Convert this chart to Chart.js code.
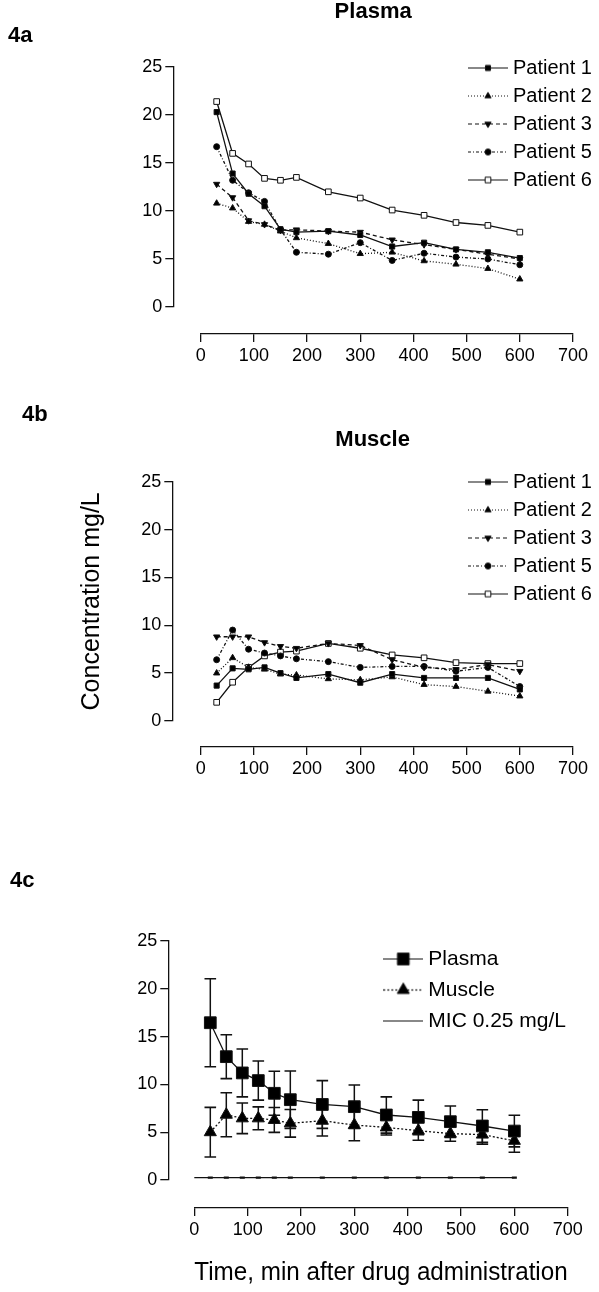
<!DOCTYPE html>
<html>
<head>
<meta charset="utf-8">
<script src="https://cdn.jsdelivr.net/npm/chart.js@4.4.0/dist/chart.umd.min.js"></script>
<style>
  body { margin: 0; background: #fff; }
  #wrap { position: relative; width: 599px; height: 1292px; overflow: hidden; background: #fff; }
  canvas { position: absolute; left: 0; }
</style>
</head>
<body>
<div id="wrap">
  <canvas id="plasmaChart" width="599" height="390" style="top:0px"></canvas>
  <canvas id="muscleChart" width="599" height="400" style="top:395px"></canvas>
  <canvas id="meanChart" width="599" height="432" style="top:860px"></canvas>
</div>
<script>
// sampling times, min after drug administration
const times = [30, 60, 90, 120, 150, 180, 240, 300, 360, 420, 480, 540, 600];
const patientNames = ['Patient 1', 'Patient 2', 'Patient 3', 'Patient 5', 'Patient 6'];

// 4a - plasma concentration, mg/L
const plasmaP1 = [20.3, 13.9, 11.8, 10.5, 8.1, 7.8, 7.9, 7.5, 6.3, 6.7, 6.0, 5.7, 5.1];
const plasmaP2 = [10.8, 10.3, 8.9, 8.6, 7.9, 7.2, 6.6, 5.55, 5.7, 4.8, 4.45, 4.0, 2.9];
const plasmaP3 = [12.8, 11.4, 9.0, 8.6, 8.0, 8.05, 7.9, 7.8, 7.0, 6.5, 6.0, 5.5, 5.0];
const plasmaP5 = [16.7, 13.2, 11.9, 11.0, 8.05, 5.7, 5.5, 6.7, 4.85, 5.6, 5.2, 5.0, 4.4];
const plasmaP6 = [21.4, 16.0, 14.9, 13.4, 13.2, 13.5, 12.0, 11.35, 10.1, 9.55, 8.8, 8.5, 7.8];

// 4b - muscle concentration, mg/L
const muscleP1 = [3.7, 5.5, 5.4, 5.6, 5.0, 4.5, 4.9, 4.0, 4.9, 4.5, 4.5, 4.5, 3.3];
const muscleP2 = [5.0, 6.6, 5.6, 5.4, 4.9, 4.8, 4.4, 4.3, 4.6, 3.8, 3.6, 3.1, 2.6];
const muscleP3 = [8.8, 8.8, 8.8, 8.2, 7.8, 7.6, 8.1, 7.9, 6.4, 5.6, 5.4, 5.9, 5.2];
const muscleP5 = [6.4, 9.5, 7.5, 7.1, 6.8, 6.5, 6.2, 5.6, 5.7, 5.7, 5.2, 5.6, 3.6];
const muscleP6 = [1.95, 4.05, 5.6, 6.8, 7.2, 7.3, 8.1, 7.6, 6.9, 6.6, 6.1, 6.0, 6.0];

// 4c - mean +/- SD
const plasmaMean = [16.45, 12.9, 11.2, 10.4, 9.07, 8.4, 7.9, 7.67, 6.8, 6.55, 6.1, 5.65, 5.12];
const plasmaSD   = [4.6, 2.3, 2.5, 2.05, 2.3, 3.0, 2.5, 2.27, 1.9, 1.8, 1.64, 1.7, 1.65];
const muscleMean = [5.0, 6.83, 6.45, 6.45, 6.28, 5.93, 6.2, 5.75, 5.5, 5.16, 4.85, 4.75, 4.1];
const muscleSD   = [2.6, 2.3, 1.6, 1.2, 1.3, 1.45, 1.6, 1.65, 0.8, 1.0, 0.8, 1.0, 1.2];
const micValue = 0.25;
const micStart = -5;

const yTicks = { min: 0, max: 25, step: 5 };
const xTicks = { min: 0, max: 700, step: 100 };

const ink = '#111';
Chart.defaults.font.family = '"Liberation Sans", Arial, Helvetica, sans-serif';
Chart.defaults.color = '#000';
Chart.defaults.animation = false;
Chart.defaults.events = [];

const patientStyle = [
  { shape: 'rect', rot: 0, dash: [], fill: '#000', r: 3.6 },
  { shape: 'triangle', rot: 0, dash: [1, 2], fill: '#000', r: 3.6 },
  { shape: 'triangle', rot: 180, dash: [4, 3], fill: '#000', r: 3.6 },
  { shape: 'circle', rot: 0, dash: [3, 2, 1, 2], fill: '#000', r: 3 },
  { shape: 'rect', rot: 0, dash: [], fill: '#fff', r: 4 }
];
const meanStyle = {
  Plasma: { shape: 'rect', rot: 0, dash: [], fill: '#000', r: 8.3 },
  Muscle: { shape: 'triangle', rot: 0, dash: [2, 2], fill: '#000', r: 7 },
  'MIC 0.25 mg/L': { shape: null, dash: [] }
};

function xy(vals) {
  return times.map((t, i) => ({ x: t, y: vals[i] }));
}

// small canvas used as legend symbol: line + marker, like the Prism legend
function legendIcon(st, w, h) {
  const c = document.createElement('canvas');
  c.width = w; c.height = h;
  const g = c.getContext('2d');
  const cx = w / 2, cy = h / 2;
  g.strokeStyle = ink; g.lineWidth = 1.2;
  g.setLineDash(st.dash);
  g.beginPath(); g.moveTo(0, cy); g.lineTo(w, cy); g.stroke();
  g.setLineDash([]);
  if (!st.shape) return c;
  g.fillStyle = st.fill; g.lineWidth = 1;
  g.beginPath();
  if (st.shape === 'rect') {
    const s = st.r * Math.SQRT1_2;
    g.rect(cx - s, cy - s, 2 * s, 2 * s);
  } else if (st.shape === 'circle') {
    g.arc(cx, cy, st.r, 0, Math.PI * 2);
  } else {
    const dir = st.rot ? -1 : 1;
    for (let k = 0; k < 3; k++) {
      const a = -Math.PI / 2 + k * 2 * Math.PI / 3;
      const px = cx + Math.cos(a) * st.r, py = cy + dir * Math.sin(a) * st.r;
      if (k) g.lineTo(px, py); else g.moveTo(px, py);
    }
    g.closePath();
  }
  g.fill(); g.stroke();
  return c;
}

function legendOpts(icons, size, pad, boxW) {
  return {
    display: true,
    position: 'chartArea',
    align: 'start',
    labels: {
      usePointStyle: true,
      pointStyleWidth: boxW,
      padding: pad,
      color: '#000',
      font: { size: size },
      filter: (item) => !!icons[item.text],
      generateLabels: (chart) => Chart.defaults.plugins.legend.labels.generateLabels(chart).map((item) => {
        if (icons[item.text]) { item.pointStyle = icons[item.text]; item.rotation = 0; }
        return item;
      })
    }
  };
}

// legend of this figure sits inside the plot, top right
const legendSpot = {
  id: 'legendSpot',
  afterLayout(chart, args, opts) {
    const lg = chart.legend;
    if (!lg) return;
    lg.left = chart.chartArea.right - opts.fromRight;
    lg.top = chart.chartArea.top - opts.above;
    lg.right = lg.left + lg.width;
    lg.bottom = lg.top + lg.height;
  }
};

// Prism-style detached axes: each axis shares a stack with an empty spacer scale.
// left boxes are laid out in reverse order, so the spacer is declared first.
function offsetAxes(o) {
  const fixW = (s) => { s.width = o.yWidth; };
  const fixH = (s) => { s.height = o.xHeight; };
  const blank = { display: true, ticks: { display: false }, grid: { display: false }, border: { display: false } };
  return {
    yGap: Object.assign({ type: 'linear', position: 'left', stack: 'left', stackWeight: o.yGap, afterFit: fixW }, blank),
    y: {
      type: 'linear', position: 'left', stack: 'left', stackWeight: o.yMain,
      min: yTicks.min, max: yTicks.max,
      ticks: { stepSize: yTicks.step, padding: 3, color: '#000', font: { size: 18 } },
      grid: { drawOnChartArea: false, tickLength: 8, color: ink, lineWidth: 1.3 },
      border: { color: ink, width: 1.3 },
      title: o.yTitle || { display: false },
      afterFit: fixW
    },
    xGap: Object.assign({ type: 'linear', position: 'bottom', stack: 'bottom', stackWeight: o.xGap, afterFit: fixH }, blank),
    x: {
      type: 'linear', position: 'bottom', stack: 'bottom', stackWeight: o.xMain,
      min: xTicks.min, max: xTicks.max,
      ticks: { stepSize: xTicks.step, padding: 3, color: '#000', font: { size: 18 }, maxRotation: 0, autoSkip: false },
      grid: { drawOnChartArea: false, tickLength: 8, color: ink, lineWidth: 1.3 },
      border: { color: ink, width: 1.3 },
      title: o.xTitle || { display: false },
      afterFit: fixH
    }
  };
}

function patientSets(series) {
  return series.map((vals, i) => {
    const st = patientStyle[i];
    return {
      label: patientNames[i],
      data: xy(vals),
      xAxisID: 'x', yAxisID: 'y',
      borderColor: ink, borderWidth: 1.3, borderDash: st.dash,
      pointStyle: st.shape, pointRotation: st.rot, pointRadius: st.r,
      pointBackgroundColor: st.fill, pointBorderColor: ink, pointBorderWidth: 1,
      tension: 0, fill: false
    };
  });
}

const patientIcons = {};
patientNames.forEach((n, i) => { patientIcons[n] = legendIcon(patientStyle[i], 40, 13); });
const meanIcons = {};
Object.keys(meanStyle).forEach((n) => { meanIcons[n] = legendIcon(meanStyle[n], 40, 19); });

const panelLabel = (text, top, bottom) => ({
  display: true, text: text, align: 'start', fullSize: true, color: '#000',
  font: { size: 22, weight: 'bold', lineHeight: 1 }, padding: { top: top, bottom: bottom }
});
const panelTitle = (text, top, bottom) => ({
  display: true, text: text, align: 'center', fullSize: false, color: '#000',
  font: { size: 22, weight: 'bold', lineHeight: 1 }, padding: { top: top, bottom: bottom }
});

// 4a
new Chart(document.getElementById('plasmaChart'), {
  type: 'line',
  data: { datasets: patientSets([plasmaP1, plasmaP2, plasmaP3, plasmaP5, plasmaP6]) },
  options: {
    responsive: false,
    layout: { padding: { left: 8, top: 0, right: 26, bottom: 16 } },
    scales: offsetAxes({ yWidth: 165.3, xHeight: 40, yMain: 240, yGap: 27, xGap: 27.4, xMain: 372.3 }),
    plugins: {
      title: panelTitle('Plasma', 1, 0),
      subtitle: panelLabel('4a', 2, 20),
      legend: legendOpts(patientIcons, 20, 8, 30),
      legendSpot: { fromRight: 108, above: 17 },
      tooltip: { enabled: false }
    }
  },
  plugins: [legendSpot]
});

// 4b
new Chart(document.getElementById('muscleChart'), {
  type: 'line',
  data: { datasets: patientSets([muscleP1, muscleP2, muscleP3, muscleP5, muscleP6]) },
  options: {
    responsive: false,
    layout: { padding: { left: 22, top: 0, right: 26, bottom: 8 } },
    scales: offsetAxes({
      yWidth: 150.3, xHeight: 40, yMain: 239.3, yGap: 26, xGap: 28.4, xMain: 372.3,
      yTitle: { display: true, text: 'Concentration mg/L', color: '#000', font: { size: 25 }, padding: { top: 55, bottom: 0 } }
    }),
    plugins: {
      title: panelLabel('4b', 9, 0),
      subtitle: panelTitle('Muscle', 3, 30.7),
      legend: legendOpts(patientIcons, 20, 8, 30),
      legendSpot: { fromRight: 108, above: 17.7 },
      tooltip: { enabled: false }
    }
  },
  plugins: [legendSpot]
});

// 4c - error bars are drawn as broken line segments with 'line' caps
function errorBars(mean, sd) {
  const pts = [];
  times.forEach((t, i) => {
    pts.push({ x: t, y: mean[i] - sd[i] }, { x: t, y: mean[i] + sd[i] }, { x: t, y: null });
  });
  return pts;
}
const micData = [{ x: micStart, y: micValue }].concat(times.map((t) => ({ x: t, y: micValue })));

new Chart(document.getElementById('meanChart'), {
  type: 'line',
  data: {
    datasets: [
      {
        label: 'plasmaSD', data: errorBars(plasmaMean, plasmaSD), order: 3,
        xAxisID: 'x', yAxisID: 'y', spanGaps: false,
        borderColor: ink, borderWidth: 1.5, pointStyle: 'line', pointRadius: 5.8,
        pointBorderColor: ink, pointBorderWidth: 1.6
      },
      {
        label: 'muscleSD', data: errorBars(muscleMean, muscleSD), order: 3,
        xAxisID: 'x', yAxisID: 'y', spanGaps: false,
        borderColor: ink, borderWidth: 1.5, pointStyle: 'line', pointRadius: 5.8,
        pointBorderColor: ink, pointBorderWidth: 1.6
      },
      {
        label: 'Plasma', data: xy(plasmaMean), order: 1,
        xAxisID: 'x', yAxisID: 'y',
        borderColor: ink, borderWidth: 1.3,
        pointStyle: 'rect', pointRadius: meanStyle.Plasma.r,
        pointBackgroundColor: '#000', pointBorderColor: ink, pointBorderWidth: 1
      },
      {
        label: 'Muscle', data: xy(muscleMean), order: 1,
        xAxisID: 'x', yAxisID: 'y',
        borderColor: ink, borderWidth: 1.3, borderDash: meanStyle.Muscle.dash,
        pointStyle: 'triangle', pointRadius: meanStyle.Muscle.r,
        pointBackgroundColor: '#000', pointBorderColor: ink, pointBorderWidth: 1
      },
      {
        label: 'MIC 0.25 mg/L', data: micData, order: 2,
        xAxisID: 'x', yAxisID: 'y',
        borderColor: ink, borderWidth: 1.3,
        pointStyle: 'line', pointRadius: (c) => (c.dataIndex === 0 ? 0 : 2.5),
        pointBorderColor: ink, pointBorderWidth: 2.2
      }
    ]
  },
  options: {
    responsive: false,
    layout: { padding: { left: 10, top: 0, right: 31.3, bottom: 4 } },
    scales: offsetAxes({
      yWidth: 158.3, xHeight: 80, yMain: 239, yGap: 28, xGap: 26, xMain: 373.4,
      xTitle: { display: true, text: 'Time, min after drug administration', color: '#000', font: { size: 26, lineHeight: 1 }, padding: { top: 0, bottom: 2 } }
    }),
    plugins: {
      title: panelLabel('4c', 10, 49),
      legend: legendOpts(meanIcons, 21, 10, 29),
      legendSpot: { fromRight: 188.9, above: 2.5 },
      tooltip: { enabled: false }
    }
  },
  plugins: [legendSpot]
});
</script>
</body>
</html>
